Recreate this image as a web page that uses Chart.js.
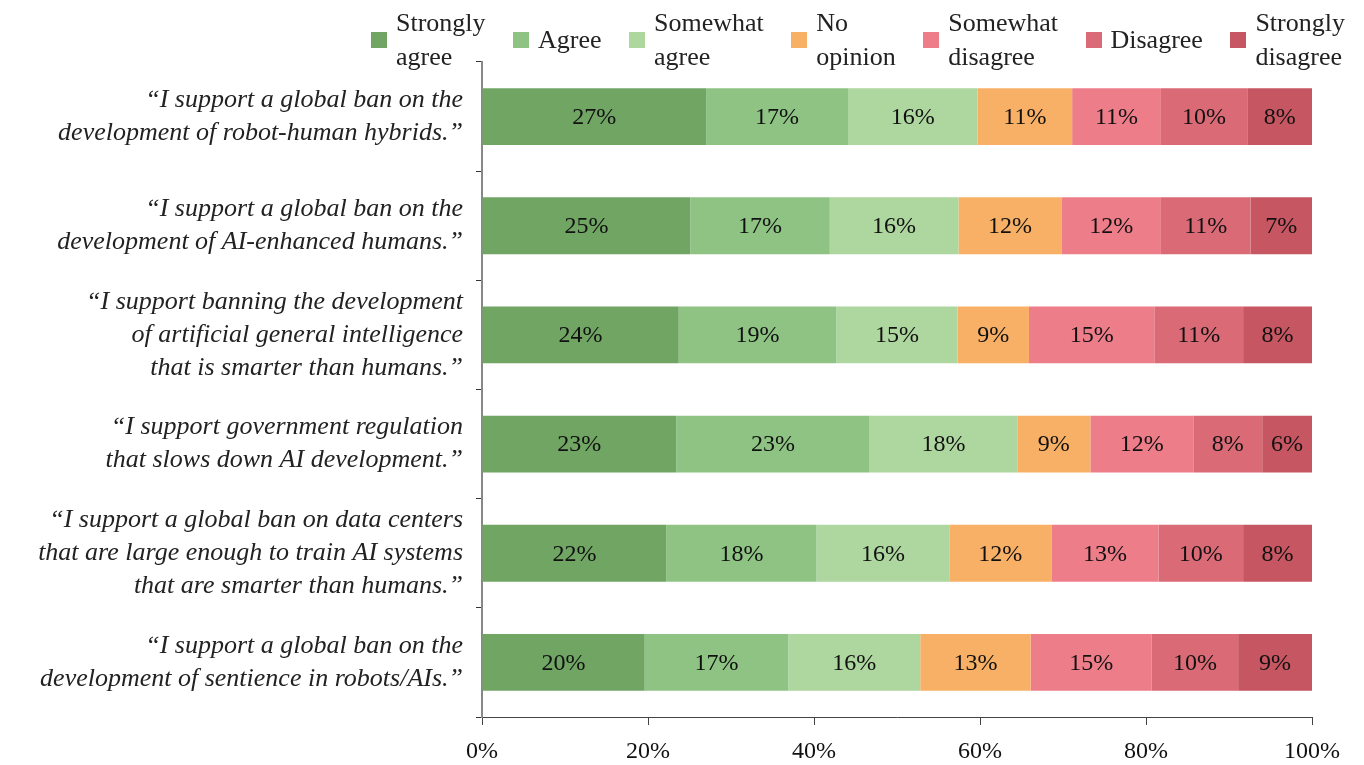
<!DOCTYPE html>
<html>
<head>
<meta charset="utf-8">
<script src="https://cdn.jsdelivr.net/npm/chart.js@4.4.1/dist/chart.umd.min.js"></script>
<style>
  body { margin: 0; background: #fff; }
  #wrap { position: relative; width: 1364px; height: 765px; }
  #legend {
    position: absolute; left: 371px; top: 6px; width: 974px; height: 68px;
    display: flex; justify-content: space-between; align-items: center;
    font-family: "Liberation Serif", serif; font-size: 26px; line-height: 34px; color: #222;
  }
  .item { display: flex; align-items: center; white-space: pre-line; }
  .box { width: 16px; height: 16px; margin-right: 9px; flex: none; }
</style>
</head>
<body>
<div id="wrap">
  <div id="legend"></div>
  <canvas id="chart"></canvas>
</div>
<script>
// Enunciados (eje Y), cada uno partido en líneas
const statements = [
  ["\u201CI support a global ban on the", "development of robot-human hybrids.\u201D"],
  ["\u201CI support a global ban on the", "development of AI-enhanced humans.\u201D"],
  ["\u201CI support banning the development", "of artificial general intelligence", "that is smarter than humans.\u201D"],
  ["\u201CI support government regulation", "that slows down AI development.\u201D"],
  ["\u201CI support a global ban on data centers", "that are large enough to train AI systems", "that are smarter than humans.\u201D"],
  ["\u201CI support a global ban on the", "development of sentience in robots/AIs.\u201D"]
];

const responses = ["Strongly\nagree", "Agree", "Somewhat\nagree", "No\nopinion", "Somewhat\ndisagree", "Disagree", "Strongly\ndisagree"];
const colors = ["#70a564", "#8ec384", "#aed69f", "#f8b066", "#ee7d8a", "#d96a76", "#c65661"];

// Porcentajes por respuesta (un valor por enunciado)
const stronglyAgree    = [27.0, 25.1, 23.7, 23.4, 22.2, 19.6];
const agree            = [17.1, 16.8, 19.0, 23.3, 18.1, 17.3];
const somewhatAgree    = [15.6, 15.5, 14.6, 17.8, 16.0, 15.9];
const noOpinion        = [11.4, 12.4, 8.6, 8.8, 12.3, 13.3];
const somewhatDisagree = [10.7, 12.0, 15.1, 12.4, 12.9, 14.6];
const disagree         = [10.4, 10.8, 10.7, 8.3, 10.2, 10.4];
const stronglyDisagree = [7.8, 7.4, 8.3, 6.0, 8.3, 8.9];

const series = [stronglyAgree, agree, somewhatAgree, noOpinion, somewhatDisagree, disagree, stronglyDisagree];
const xTicks = [0, 20, 40, 60, 80, 100];

const serif = '"Liberation Serif", serif';

// leyenda en HTML (etiquetas de dos líneas)
const legend = document.getElementById("legend");
responses.forEach((r, i) => {
  const it = document.createElement("div");
  it.className = "item";
  const b = document.createElement("span");
  b.className = "box";
  b.style.background = colors[i];
  const t = document.createElement("span");
  t.textContent = r;
  it.appendChild(b); it.appendChild(t);
  legend.appendChild(it);
});

// Etiquetas de porcentaje dentro de cada segmento
const barLabels = {
  id: "barLabels",
  afterDatasetsDraw(chart) {
    const ctx = chart.ctx;
    ctx.save();
    ctx.font = "24px " + serif;
    ctx.fillStyle = "#111";
    ctx.textAlign = "center";
    ctx.textBaseline = "middle";
    chart.data.datasets.forEach((ds, i) => {
      chart.getDatasetMeta(i).data.forEach((bar, j) => {
        const p = bar.getCenterPoint();
        ctx.fillText(Math.round(ds.data[j]) + "%", p.x, p.y + 1);
      });
    });
    ctx.restore();
  }
};

new Chart(document.getElementById("chart"), {
  type: "bar",
  data: {
    labels: statements,
    datasets: series.map((d, i) => ({
      label: responses[i].replace("\n", " "),
      data: d,
      backgroundColor: colors[i],
      borderWidth: 0,
      categoryPercentage: 1,
      barPercentage: 0.52
    }))
  },
  options: {
    indexAxis: "y",
    responsive: true,
    maintainAspectRatio: false,
    animation: false,
    layout: { padding: { top: 62, right: 52, left: 0, bottom: 0 } },
    plugins: { legend: { display: false }, tooltip: { enabled: false } },
    scales: {
      x: {
        stacked: true,
        min: 0, max: 100,
        afterBuildTicks: (s) => { s.ticks = xTicks.map(v => ({ value: v })); },
        afterFit: (s) => { s.height = 48; },
        ticks: { callback: (v) => v + "%", color: "#111", padding: 12, font: { family: serif, size: 24 }, maxRotation: 0 },
        grid: { drawOnChartArea: false, drawTicks: true, tickLength: 8, color: "#444" },
        border: { color: "#444", width: 1 }
      },
      y: {
        stacked: true,
        afterFit: (s) => { s.width = 482; },
        ticks: { color: "#222", padding: 13, font: { family: serif, size: 26, style: "italic", lineHeight: 1.27 } },
        grid: { drawOnChartArea: false, drawTicks: true, tickLength: 6, color: "#333", offset: true },
        border: { color: "#888", width: 2 }
      }
    }
  },
  plugins: [barLabels]
});
</script>
</body>
</html>
